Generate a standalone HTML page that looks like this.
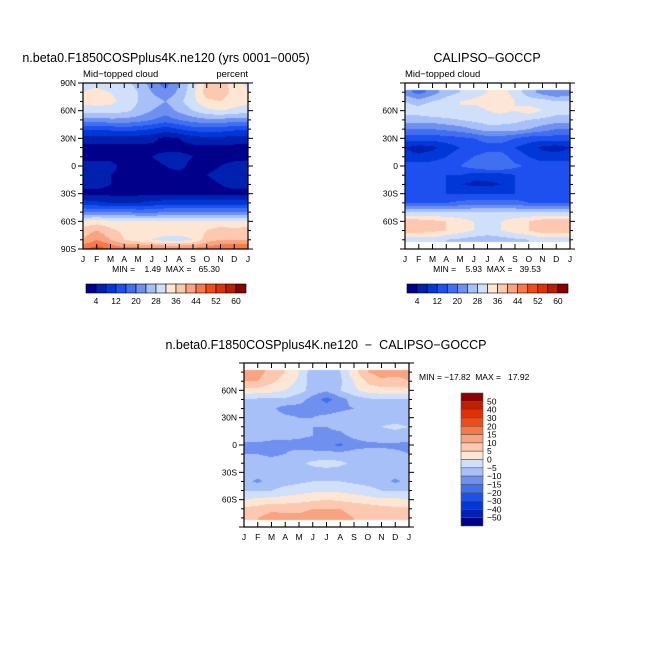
<!DOCTYPE html>
<html><head><meta charset="utf-8"><style>
body{margin:0;background:#fff;width:654px;height:654px;overflow:hidden;position:relative;font-family:"Liberation Sans",sans-serif}
canvas{position:absolute}
svg{position:absolute;left:0;top:0}
text{white-space:pre}
</style></head><body>
<canvas id="c1"></canvas>
<canvas id="c2"></canvas>
<canvas id="c3"></canvas>
<svg id="s" width="654" height="654" xml:space="preserve"></svg>
<script>
const months=["J","F","M","A","M","J","J","A","S","O","N","D","J"];
const colors=["#00008a","#0020b0","#0038d8","#1e50f0","#4070f0","#7090f0","#a8c0f8","#d0e0fa","#fde6d4","#fcc8b0","#f8a480","#f87848","#f04c18","#e03008","#b82000","#8a0000"];
const levelsAbs=[4,8,12,16,20,24,28,32,36,40,44,48,52,56,60];
const levelsDiff=[-50,-40,-30,-20,-15,-10,-5,0,5,10,15,20,30,40,50];
const latsModel=[90,80,70,60,50,40,30,20,10,0,-10,-20,-30,-40,-50,-60,-70,-80,-90];
const modelVals=[
[31,31,30,29,27,22,18,24,30,37,38,34,31],
[32,33,32,30,28,24,21,25,31,38,38,35,32],
[33,34,33,31,28,26,24,27,31,35,36,34,33],
[30,30,30,29,27,24,22,25,28,31,32,31,30],
[22,22,23,23,22,20,18,20,22,23,23,22,22],
[13,13,13,14,13,12,10,12,14,14,14,13,13],
[6,6,6,6,6,5,3,4,6,7,7,6,6],
[3,3,3,3,3,3,3,3,3,3,3,3,3],
[3,3,3,3,3,4,5,5,4,4,3,3,3],
[5,5,5,3,3,3,4,5,3,3,4,5,5],
[5,5,4,3,3,3,3,3,3,4,5,5,5],
[5,5,4,3,3,3,3,3,3,3,4,5,5],
[3,3,3,3,3,3,3,3,3,3,3,3,3],
[10,9,8,8,8,9,10,10,10,10,10,10,10],
[20,20,20,20,19,19,20,20,20,20,20,20,20],
[33,34,33,33,32,32,32,32,33,33,33,33,33],
[38,40,37,35,34,35,35,35,34,36,38,37,38],
[40,44,40,36,34,32,30,30,32,38,40,40,40],
[48,50,48,46,46,46,46,46,46,46,48,48,48]];
const latsObs=[82,80,70,60,50,40,30,20,10,0,-10,-20,-30,-40,-50,-60,-70,-80,-82];
const obsVals=[
[22,18,22,26,28,30,32,34,30,26,22,20,22],
[22,18,22,26,28,30,32,34,30,26,22,20,22],
[28,26,28,30,32,33,34,36,32,30,30,28,28],
[30,30,32,32,32,30,32,33,32,34,32,30,30],
[26,26,26,27,28,29,30,30,29,28,27,26,26],
[20,20,20,21,22,24,26,26,26,24,22,20,20],
[14,14,14,14,15,16,18,18,16,14,14,14,14],
[8,6,7,10,12,13,14,14,12,10,7,6,8],
[10,9,10,12,14,16,18,18,14,12,10,10,10],
[14,14,14,15,16,18,20,20,17,15,14,14,14],
[14,13,12,12,12,10,10,10,12,14,14,14,14],
[14,14,13,12,8,7,7,8,12,14,14,14,14],
[12,12,12,12,12,12,12,12,12,12,12,12,12],
[16,16,16,16,17,18,18,18,18,16,16,16,16],
[28,28,28,28,28,28,28,28,28,28,28,28,28],
[38,38,37,36,34,32,30,32,34,36,38,38,38],
[38,38,37,36,34,32,30,32,34,36,38,38,38],
[30,30,30,28,27,26,26,26,27,28,30,30,30],
[30,30,30,28,27,26,26,26,27,28,30,30,30]];
const diffVals=[
[12,12,8,5,0,-8,-10,-5,3,10,12,12,12],
[12,12,8,5,0,-8,-10,-5,3,10,12,12,12],
[10,10,6,3,-1,-8,-10,-6,0,6,9,8,10],
[3,3,2,0,-3,-7,-9,-5,-1,2,3,3,3],
[-5,-6,-6,-6,-8,-12,-17,-12,-8,-6,-5,-5,-5],
[-8,-8,-9,-12,-12,-11,-12,-11,-10,-9,-8,-8,-8],
[-8,-8,-8,-9,-10,-10,-9,-8,-7,-7,-7,-7,-8],
[-5,-5,-7,-7,-8,-10,-10,-9,-8,-6,-5,-4,-5],
[-8,-8,-9,-9,-9,-10,-11,-11,-9,-8,-7,-7,-8],
[-11,-11,-11,-11,-12,-13,-14,-16,-12,-11,-11,-11,-11],
[-10,-10,-11,-10,-8,-8,-8,-8,-8,-8,-8,-9,-10],
[-8,-8,-8,-7,-6,-4,-3,-4,-6,-7,-8,-8,-8],
[-8,-8,-8,-8,-8,-7,-7,-7,-8,-8,-8,-8,-8],
[-8,-11,-8,-7,-6,-5,-5,-5,-6,-7,-8,-11,-8],
[-5,-5,-5,-3,-2,-1,-1,-1,-2,-3,-5,-5,-5],
[0,1,2,2,3,4,5,4,3,2,1,1,0],
[6,7,9,9,9,10,10,10,9,8,7,6,6],
[9,10,12,11,11,12,12,11,10,9,8,8,9],
[9,10,12,11,11,12,12,11,10,9,8,8,9]];
const absTickLabels=["4","12","20","28","36","44","52","60"];
const diffTickLabels=["50","40","30","20","15","10","5","0","-5","-10","-15","-20","-30","-40","-50"];

const NS="http://www.w3.org/2000/svg";
const svg=document.getElementById('s');
function el(tag,attrs,txt){const e=document.createElementNS(NS,tag);for(const k in attrs)e.setAttribute(k,attrs[k]);if(txt!==undefined)e.textContent=txt;svg.appendChild(e);return e;}
function colorFor(v,levels){let i=0;while(i<levels.length&&v>=levels[i])i++;return colors[i];}
function hex(c){return [parseInt(c.slice(1,3),16),parseInt(c.slice(3,5),16),parseInt(c.slice(5,7),16)];}
function sample(lats,vals,lat,m){
  if(lat>lats[0]||lat<lats[lats.length-1])return null;
  let r=0;while(r<lats.length-2&&lat<lats[r+1])r++;
  const t=(lats[r]-lat)/(lats[r]-lats[r+1]||1);
  const c=Math.min(11,Math.floor(m)),u=m-c;
  const a=vals[r][c]*(1-u)+vals[r][c+1]*u, b=vals[r+1][c]*(1-u)+vals[r+1][c+1]*u;
  return a*(1-t)+b*t;
}
function drawPanel(id,x0,y0,w,h,lats,vals,levels){
  const cv=document.getElementById(id);cv.width=w;cv.height=h;cv.style.left=x0+'px';cv.style.top=y0+'px';
  const ctx=cv.getContext('2d');const img=ctx.createImageData(w,h);
  for(let py=0;py<h;py++){const lat=90-(py+0.5)/h*180;
    for(let px=0;px<w;px++){const m=(px+0.5)/w*12;const v=sample(lats,vals,lat,m);const k=(py*w+px)*4;
      let c=[255,255,255];if(v!==null)c=hex(colorFor(v,levels));
      img.data[k]=c[0];img.data[k+1]=c[1];img.data[k+2]=c[2];img.data[k+3]=255;}}
  ctx.putImageData(img,0,0);
}
function axes(x0,y0,w,h,latLabels,name){
  el('rect',{x:x0,y:y0,width:w,height:h,fill:'none',stroke:'#000','stroke-width':1.2,});
  months.forEach((m,i)=>{const x=x0+i*w/12;
    el('line',{x1:x,y1:y0,x2:x,y2:y0+5,stroke:'#000'});el('line',{x1:x,y1:y0+h,x2:x,y2:y0+h-5,stroke:'#000'});
    const t=el('text',{x:x,y:y0+h+13,'font-size':8.5,'text-anchor':'middle'},m);
    });
  for(let lat=90;lat>=-90;lat-=10){const y=y0+(90-lat)/180*h;const major=lat%30===0;const L=major?5:3;
    el('line',{x1:x0-L,y1:y,x2:x0,y2:y,stroke:'#000'});el('line',{x1:x0+w,y1:y,x2:x0+w+L,y2:y,stroke:'#000'});
    if(major&&latLabels.includes(lat)){const s=lat===0?'0':(Math.abs(lat)+(lat>0?'N':'S'));
      const t=el('text',{x:x0-7,y:y+3,'font-size':8.5,'text-anchor':'end'},s);
      }}
}
function hbar(x0,y0,w,h,name){const bw=w/16;
  colors.forEach((c,i)=>{const r=el('rect',{x:x0+i*bw,y:y0,width:bw,height:h,fill:c,stroke:'#000','stroke-width':0.6});});
  absTickLabels.forEach((l,i)=>{const t=el('text',{x:x0+(2*i+1)*bw,y:y0+h+11,'font-size':8.5,'text-anchor':'middle'},l);});
}
drawPanel('c1',83,83,165,166,latsModel,modelVals,levelsAbs);
drawPanel('c2',405,83,165,166,latsObs,obsVals,levelsAbs);
drawPanel('c3',244,363,165,164,latsObs,diffVals,levelsDiff);
axes(83,83,165,166,[90,60,30,0,-30,-60,-90],'model');
axes(405,83,165,166,[60,30,0,-30,-60],'obs');
axes(244,363,165,164,[60,30,0,-30,-60],'diff');
el('text',{x:166,y:62,'font-size':12.5,'text-anchor':'middle',},'n.beta0.F1850COSPplus4K.ne120 (yrs 0001\u22120005)');
el('text',{x:83,y:77,'font-size':9.5,},'Mid\u2212topped cloud');
el('text',{x:248,y:77,'font-size':9.5,'text-anchor':'end',},'percent');
el('text',{x:166,y:272,'font-size':8.5,'text-anchor':'middle',},'MIN =    1.49  MAX =   65.30');
el('text',{x:487,y:62,'font-size':12.5,'text-anchor':'middle',},'CALIPSO\u2212GOCCP');
el('text',{x:405,y:77,'font-size':9.5,},'Mid\u2212topped cloud');
el('text',{x:487,y:272,'font-size':8.5,'text-anchor':'middle',},'MIN =    5.93  MAX =   39.53');
el('text',{x:326,y:349,'font-size':12.5,'text-anchor':'middle',},'n.beta0.F1850COSPplus4K.ne120  \u2212  CALIPSO\u2212GOCCP');
el('text',{x:419,y:380,'font-size':8.5,},'MIN = \u221217.82  MAX =   17.92');
hbar(86,284,160,9,'model-colorbar');
hbar(407,284,161,9,'obs-colorbar');
(function(){const x0=461,y0=393,w=22,h=133,bh=h/16;
  colors.slice().reverse().forEach((c,i)=>{const r=el('rect',{x:x0,y:y0+i*bh,width:w,height:bh,fill:c,stroke:'#555','stroke-width':0.6});});
  diffTickLabels.forEach((l,i)=>{const t=el('text',{x:487,y:y0+(i+1)*bh+3,'font-size':8.5},l.replace('-','\u2212'));});
})();
</script>
</body></html>
